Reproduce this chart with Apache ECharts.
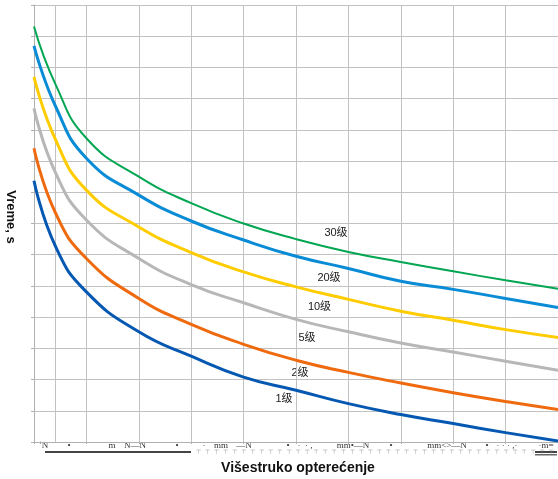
<!DOCTYPE html>
<html>
<head>
<meta charset="utf-8">
<script src="https://cdn.jsdelivr.net/npm/echarts@6/dist/echarts.min.js"></script>
<style>
html,body{margin:0;padding:0;background:#fff;}
#chart{width:558px;height:479px;}
</style>
</head>
<body>
<div id="chart"></div>
<script>
// x positions (overload multiple, grid units)
const xs = [0, 0.415, 1, 2, 3, 4, 5, 6, 7, 8, 9, 10];
// series values (time, grid units)
const grade30 = [13.31, 11.44, 9.73, 8.50, 7.65, 7.00, 6.50, 6.09, 5.77, 5.47, 5.18, 4.91];
const grade20 = [12.69, 10.74, 9.09, 7.91, 7.08, 6.47, 5.95, 5.56, 5.15, 4.89, 4.60, 4.31];
const grade10 = [11.70, 9.67, 8.07, 6.89, 6.07, 5.45, 4.97, 4.57, 4.19, 3.90, 3.60, 3.35];
const grade5  = [10.69, 8.61, 7.11, 5.88, 5.04, 4.46, 3.93, 3.53, 3.17, 2.88, 2.59, 2.30];
const grade2  = [9.41, 7.32, 5.88, 4.60, 3.77, 3.13, 2.62, 2.23, 1.89, 1.58, 1.30, 1.04];
const grade1  = [8.37, 6.25, 4.81, 3.53, 2.75, 2.08, 1.66, 1.23, 0.88, 0.59, 0.30, 0.03];
const seriesNames = ['30级', '20级', '10级', '5级', '2级', '1级'];
const extraGridX = [0.41];

const xAxisTitle = 'Višestruko opterećenje';
const yAxisTitle = 'Vreme, s';

const colors = ['#00A651', '#0A8BD6', '#FFCC00', '#B7B7B7', '#EF6A0E', '#0558B2'];
const widths = [2, 3, 3, 3, 3, 3];
const allData = [grade30, grade20, grade10, grade5, grade2, grade1];

const series = allData.map((arr, i) => ({
  name: seriesNames[i],
  type: 'line',
  smooth: 0.5,
  symbol: 'none',
  silent: true,
  z: 10 - i,
  lineStyle: { color: colors[i], width: widths[i] },
  data: arr.map((v, k) => [xs[k], v])
}));
series[series.length - 1].markLine = {
  silent: true, symbol: 'none', label: { show: false },
  lineStyle: { color: '#c2c2c2', width: 1, type: 'solid' },
  data: extraGridX.map(v => ({ xAxis: v })),
  z: 1
};

// label placement (pixels)
const labelPos = [[336, 233], [329, 277.5], [319.5, 306.5], [307, 337.5], [300, 372.5], [284, 398.5]];
const graphics = seriesNames.map((t, i) => ({
  type: 'text', x: labelPos[i][0], y: labelPos[i][1],
  style: { text: t, fill: '#1a1a1a', font: '11px "Liberation Sans", "Noto Sans CJK SC", sans-serif', align: 'center', verticalAlign: 'middle' }
}));
graphics.push({
  type: 'text', x: 298, y: 468,
  style: { text: xAxisTitle, fill: '#111', font: 'bold 14px "Liberation Sans", Arial, sans-serif', align: 'center', verticalAlign: 'middle' }
});
graphics.push({
  type: 'text', x: 11, y: 217, rotation: -Math.PI / 2,
  style: { text: yAxisTitle, fill: '#111', font: 'bold 13px "Liberation Sans", Arial, sans-serif', align: 'center', verticalAlign: 'middle' }
});
// garbled-looking footer glyph strip under the axis
const footerBits = [
  ['⁻⁺N', 42], ['•', 69], ['m', 112], ['N—N', 135], ['•', 177], ['·', 204], ['mm', 221], ['—N', 244],
  ['•', 288], ['·  · ,', 305], ['mm•—N', 353], ['•', 391], ['mm<>—N', 447], ['•', 487], ['· · · ,·', 507], ['·m=', 546]
];
footerBits.forEach(b => graphics.push({
  type: 'text', x: b[1], y: 446,
  style: { text: b[0], fill: '#333', font: '9px "Liberation Serif", serif', align: 'center', verticalAlign: 'middle' }
}));
graphics.push({ type: 'rect', shape: { x: 45, y: 451, width: 146, height: 2 }, style: { fill: '#444' } });
graphics.push({ type: 'rect', shape: { x: 535, y: 451, width: 22, height: 2 }, style: { fill: '#444' } });
graphics.push({ type: 'rect', shape: { x: 535, y: 454, width: 22, height: 1.5 }, style: { fill: '#666' } });
let ticks = '';
for (let i = 0; i < 40; i++) ticks += '⊤  ';
graphics.push({
  type: 'text', x: 196, y: 452,
  style: { text: ticks, fill: '#999', font: '6px "DejaVu Sans", sans-serif', align: 'left', verticalAlign: 'middle' }
});

const chart = echarts.init(document.getElementById('chart'), null, { renderer: 'canvas' });
chart.setOption({
  animation: false,
  backgroundColor: '#fff',
  grid: { left: 34, right: 0, top: 5, bottom: 37, containLabel: false },
  xAxis: {
    type: 'value', min: 0, max: 10, interval: 1,
    axisLabel: { show: false },
    axisLine: { show: true, lineStyle: { color: '#b0b0b0', width: 1 } },
    axisTick: { show: true, length: 2, lineStyle: { color: '#b0b0b0' } },
    splitLine: { show: true, lineStyle: { color: '#c2c2c2', width: 1 } }
  },
  yAxis: {
    type: 'value', min: 0, max: 14, interval: 1,
    axisLabel: { show: false },
    axisLine: { show: true, lineStyle: { color: '#b0b0b0', width: 1 } },
    axisTick: { show: true, length: 3, lineStyle: { color: '#b0b0b0' } },
    splitLine: { show: true, lineStyle: { color: '#c2c2c2', width: 1 } }
  },
  series: series,
  graphic: graphics
});
</script>
</body>
</html>
